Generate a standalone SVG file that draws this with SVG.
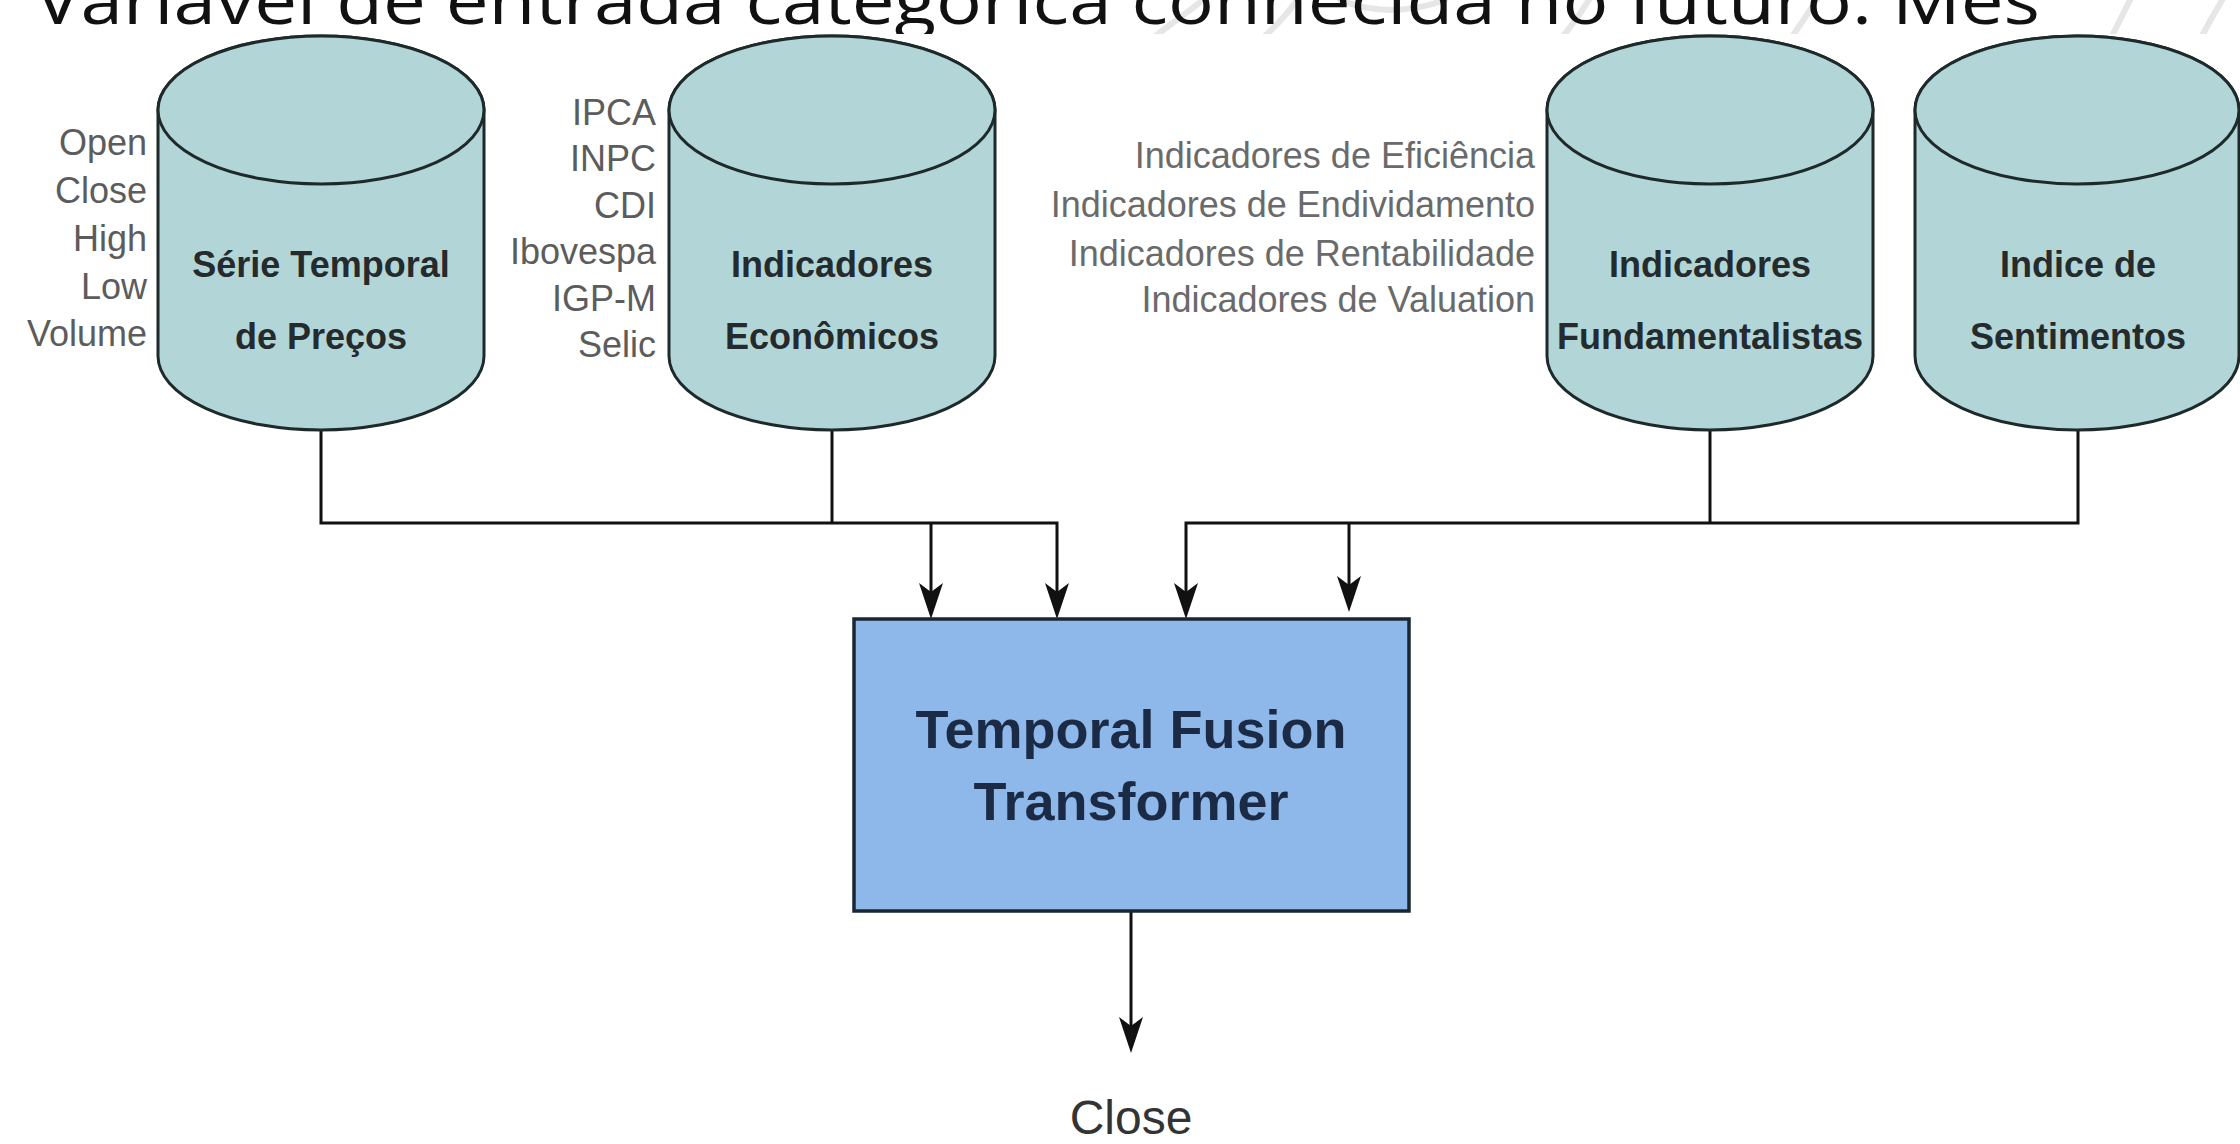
<svg xmlns="http://www.w3.org/2000/svg" width="2240" height="1144" viewBox="0 0 2240 1144">
<style>
.cyl{fill:#B2D5D7;stroke:#1e2a2a;stroke-width:3}
.lbl{font-family:"Liberation Sans",Arial,sans-serif;font-weight:bold;font-size:36px;fill:#252b2c;text-anchor:middle}
.side{font-family:"Liberation Sans",Arial,sans-serif;font-size:36px;fill:#5c5c5c;text-anchor:end}
.side2{font-family:"Liberation Sans",Arial,sans-serif;font-size:36px;fill:#6a6a6a;text-anchor:end}
.con{fill:none;stroke:#111;stroke-width:3}
.wm{fill:none;stroke:#e6e6e6;stroke-width:6;stroke-linecap:round}
</style>
<defs>
<marker id="arr" viewBox="-30 -13 40 26" refX="0" refY="0" markerWidth="40" markerHeight="26" markerUnits="userSpaceOnUse" orient="auto">
<path d="M8,0 L-28,-12 L-19,0 L-28,12 Z" fill="#111"/>
</marker>
<clipPath id="topclip"><rect x="0" y="0" width="2240" height="34"/></clipPath>
</defs>
<rect x="0" y="0" width="2240" height="1144" fill="#ffffff"/>
<g id="watermark" clip-path="url(#topclip)">
<path class="wm" d="M1150,40 Q1190,10 1230,-20"/>
<path class="wm" d="M1260,40 Q1290,15 1310,-20"/>
<path class="wm" d="M1340,0 Q1390,20 1445,0" stroke-width="12"/>
<path class="wm" d="M1560,40 Q1585,10 1600,-20"/>
<path class="wm" d="M1790,40 Q1810,10 1830,-20"/>
<path class="wm" d="M2110,40 Q2125,10 2140,-20"/>
<path class="wm" d="M2200,40 Q2215,10 2235,-20"/>
</g>
<g clip-path="url(#topclip)">
<text x="35" y="24" font-family="'Open Sans','Noto Sans',sans-serif" font-size="66" fill="#111" textLength="2005" lengthAdjust="spacingAndGlyphs">Variável de entrada categórica conhecida no futuro. Mes</text>
</g>
<g id="connectors">
<path class="con" d="M321,430 V523 H1057 V611" marker-end="url(#arr)"/>
<path class="con" d="M832,430 V523"/>
<path class="con" d="M931,523 V611" marker-end="url(#arr)"/>
<path class="con" d="M2078,430 V523 H1186 V611" marker-end="url(#arr)"/>
<path class="con" d="M1710,430 V523"/>
<path class="con" d="M1349,523 V604" marker-end="url(#arr)"/>
<path class="con" d="M1131,911 V1045" marker-end="url(#arr)"/>
</g>
<g id="node-serie">
<path class="cyl" d="M158,110 L158,356 A163,74 0 0 0 484,356 L484,110 A163,74 0 0 0 158,110 Z"/>
<ellipse class="cyl" cx="321" cy="110" rx="163" ry="74"/>
<text class="lbl" x="321" y="277">Série Temporal</text>
<text class="lbl" x="321" y="349">de Preços</text>
<text class="side" x="147" y="155">Open</text>
<text class="side" x="147" y="203">Close</text>
<text class="side" x="147" y="251">High</text>
<text class="side" x="147" y="299">Low</text>
<text class="side" x="147" y="346">Volume</text>
</g>
<g id="node-economicos">
<path class="cyl" d="M669,110 L669,356 A163,74 0 0 0 995,356 L995,110 A163,74 0 0 0 669,110 Z"/>
<ellipse class="cyl" cx="832" cy="110" rx="163" ry="74"/>
<text class="lbl" x="832" y="277">Indicadores</text>
<text class="lbl" x="832" y="349">Econômicos</text>
<text class="side" x="656" y="125">IPCA</text>
<text class="side" x="656" y="171">INPC</text>
<text class="side" x="656" y="218">CDI</text>
<text class="side" x="656" y="264">Ibovespa</text>
<text class="side" x="656" y="311">IGP-M</text>
<text class="side" x="656" y="357">Selic</text>
</g>
<g id="node-fundamentalistas">
<path class="cyl" d="M1547,110 L1547,356 A163,74 0 0 0 1873,356 L1873,110 A163,74 0 0 0 1547,110 Z"/>
<ellipse class="cyl" cx="1710" cy="110" rx="163" ry="74"/>
<text class="lbl" x="1710" y="277">Indicadores</text>
<text class="lbl" x="1710" y="349">Fundamentalistas</text>
<text class="side2" x="1535" y="168">Indicadores de Eficiência</text>
<text class="side2" x="1535" y="217">Indicadores de Endividamento</text>
<text class="side2" x="1535" y="266">Indicadores de Rentabilidade</text>
<text class="side2" x="1535" y="312">Indicadores de Valuation</text>
</g>
<g id="node-sentimentos">
<path class="cyl" d="M1915,110 L1915,356 A162,74 0 0 0 2239,356 L2239,110 A162,74 0 0 0 1915,110 Z"/>
<ellipse class="cyl" cx="2077" cy="110" rx="162" ry="74"/>
<text class="lbl" x="2078" y="277">Indice de</text>
<text class="lbl" x="2078" y="349">Sentimentos</text>
</g>
<g id="node-tft">
<rect x="854" y="619" width="555" height="292" fill="#8EB8E9" stroke="#1b2633" stroke-width="3.5"/>
<text x="1131" y="748" font-family="'Liberation Sans',Arial,sans-serif" font-weight="bold" font-size="54" fill="#1b2a45" text-anchor="middle">Temporal Fusion</text>
<text x="1131" y="820" font-family="'Liberation Sans',Arial,sans-serif" font-weight="bold" font-size="54" fill="#1b2a45" text-anchor="middle">Transformer</text>
</g>
<g id="node-close">
<text x="1131" y="1134" font-family="'Liberation Sans',Arial,sans-serif" font-size="48" fill="#333" text-anchor="middle">Close</text>
</g>
</svg>
